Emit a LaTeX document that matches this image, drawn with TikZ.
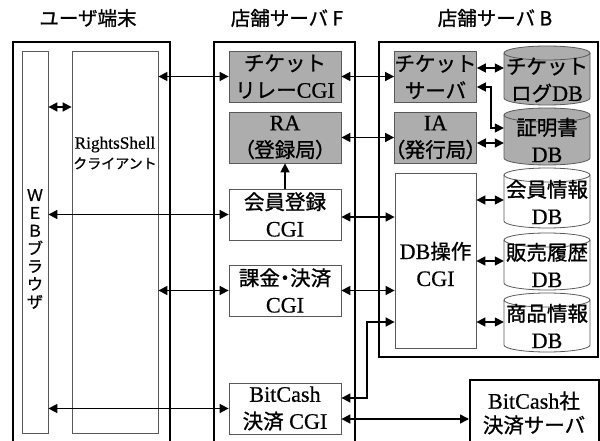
\documentclass[tikz,border=0pt]{standalone}
\usepackage{fontspec}
\setmainfont{Liberation Serif}[Scale=1.08,FakeBold=0.6]
\newfontfamily\jp{Noto Sans CJK JP}[FakeBold=1]
\newfontfamily\jpp{Noto Sans CJK JP}[FakeBold=1,RawFeature=+palt]
\usetikzlibrary{arrows.meta}
\definecolor{fillg}{gray}{0.68}
\definecolor{edgeg}{gray}{0.35}
\newcommand\dbcyl[4]{%
  \filldraw[fill=#4, draw=edgeg, line width=0.8pt] (#1,#2+7) -- (#1,#3-7)
    arc[start angle=180, end angle=360, x radius=43pt, y radius=7pt] -- (#1+86,#2+7)
    arc[start angle=0, end angle=180, x radius=43pt, y radius=7pt] -- cycle;
  \draw[edgeg, line width=0.8pt] (#1,#2+7)
    arc[start angle=180, end angle=360, x radius=43pt, y radius=7pt];
}
\begin{document}
\begin{tikzpicture}[x=1pt,y=-1pt,
  grp/.style={draw=black, line width=1.6pt},
  box/.style={draw=edgeg, line width=0.8pt, inner sep=0pt, align=center,
              font=\fontsize{20.5}{27}\selectfont},
  gbox/.style={box, fill=fillg},
  fbox/.style={box, minimum width=112pt, minimum height=51pt},
  bbox/.style={box, minimum width=81pt, minimum height=51pt},
  dbnode/.style={inner sep=0pt, minimum width=86pt, align=center,
                 font=\fontsize{20.5}{27}\selectfont},
  arr/.style={{Triangle[length=9pt,width=9pt]}-{Triangle[length=9pt,width=9pt]}, line width=1.6pt},
  title/.style={font=\jp\fontsize{19.5}{22}\selectfont, inner sep=0pt}]
\useasboundingbox (0,0) rectangle (600,441);
\clip (0,0) rectangle (600,441);

% titles
\node[title] (t1) at (88,18) {ユーザ端末};
\node[title] (t2) at (287,18) {店舗サーバ F};
\node[title] (t3) at (495,18) {店舗サーバ B};

% group frames
\draw[grp] (13,42) rectangle (170,470);
\draw[grp] (214,42) rectangle (355,470);
\draw[grp] (379,42) rectangle (598,357);
\node[grp, anchor=north west, minimum width=129pt, minimum height=90pt, inner sep=0pt] (bcs) at (469,379) {};
\node[align=center, inner sep=0pt, font=\fontsize{20.5}{24}\selectfont] (bcst) at (534,413) {BitCash{\jp 社}\\{\jp 決済サーバ}};

% user terminal
\node[box, minimum width=26pt, minimum height=382pt] (web) at (35,242) {};
\node[font=\jp\fontsize{16}{17.8}\selectfont, align=center, inner sep=0pt] (webt) at (35,249) {Ｗ\\Ｅ\\Ｂ\\ブ\\ラ\\ウ\\ザ};
\node[box, minimum width=86pt, minimum height=382pt] (rs) at (115,242) {};
\node[align=center, inner sep=0pt, font=\fontsize{16}{20}\selectfont] (rst) at (115,153) {RightsShell\\{\jp\fontsize{14}{20}\selectfont クライアント}};

% server F
\node[fbox, gbox] (relay) at (285,76.5) {{\jp チケット}\\{\jp リレー}CGI};
\node[fbox, gbox] (ra) at (285,137.5) {RA\\{\jpp （登録局）}};
\node[fbox] (kaiin) at (285,214.5) {{\jp 会員登録}\\CGI};
\node[fbox] (kakin) at (285,290.5) {{\jpp 課金・決済}\\CGI};
\node[fbox] (bcgi) at (285,408.5) {BitCash\\{\jp 決済} CGI};

% server B
\node[bbox, gbox] (tsrv) at (435.5,77) {{\jp チケット}\\{\jp サーバ}};
\node[bbox, gbox] (ia) at (435.5,137.5) {IA\\{\jpp （発行局）}};
\node[box, minimum width=81pt, minimum height=175pt] (dbop) at (435.5,260.5) {};
\node[align=center, inner sep=0pt, font=\fontsize{20.5}{27}\selectfont] (dbopt) at (435.5,264) {DB{\jp 操作}\\CGI};

% databases
\dbcyl{504}{46}{105}{fillg}
\dbcyl{504}{108}{165}{fillg}
\dbcyl{504}{168}{228}{white}
\dbcyl{504}{233}{290}{white}
\dbcyl{504}{293}{352}{white}
\node[dbnode, minimum height=59pt] (tlog) at (547,80) {{\jp チケット}\\{\jp ログ}DB};
\node[dbnode, minimum height=57pt] (cert) at (547,140) {{\jp 証明書}\\DB};
\node[dbnode, minimum height=60pt] (kdb) at (547,202) {{\jp 会員情報}\\DB};
\node[dbnode, minimum height=57pt] (hdb) at (547,265) {{\jp 販売履歴}\\DB};
\node[dbnode, minimum height=59pt] (sdb) at (547,326) {{\jp 商品情報}\\DB};

% helper levels
\coordinate (y107) at (0,107);
\coordinate (y217) at (0,217);
\coordinate (y398) at (0,398);
\coordinate (y419) at (0,419);
\coordinate (y68) at (0,68);
\coordinate (y87) at (0,87);
\coordinate (y143) at (0,143);
\coordinate (y200) at (0,200);
\coordinate (y261) at (0,261);
\coordinate (y322) at (0,322);
\coordinate (bend1) at (367,322);
\coordinate (bend2) at (491,128);

% connectors
\draw[arr] (web.east |- y107) -- (rs.west |- y107);
\draw[arr] (rs.east |- relay.west) -- (relay.west);
\draw[arr] (web.east |- kaiin.west) -- (kaiin.west);
\draw[arr] (rs.east |- kakin.west) -- (kakin.west);
\draw[arr] (web.east |- bcgi.west) -- (bcgi.west);
\draw[arr] (relay.east) -- (tsrv.west |- relay.east);
\draw[arr] (ra.east) -- (ia.west |- ra.east);
\draw[arr] (kaiin.east |- y217) -- (dbop.west |- y217);
\draw[arr] (kakin.east) -- (dbop.west |- kakin.east);
\draw[arr] (bcgi.east |- y398) -| (bend1) -- (dbop.west |- bend1);
\draw[arr] (bcgi.east |- y419) -- (bcs.west |- y419);
\draw[line width=1.6pt, -{Triangle[length=9pt,width=9pt]}] (kaiin.north) -- (ra.south);
\draw[arr] (tsrv.east |- y68) -- (tlog.west |- y68);
\draw[arr] (tsrv.east |- y87) -| (bend2) -- (cert.west |- bend2);
\draw[arr] (ia.east |- y143) -- (cert.west |- y143);
\draw[arr] (dbop.east |- y200) -- (kdb.west |- y200);
\draw[arr] (dbop.east |- y261) -- (hdb.west |- y261);
\draw[arr] (dbop.east |- y322) -- (sdb.west |- y322);
\end{tikzpicture}
\end{document}
